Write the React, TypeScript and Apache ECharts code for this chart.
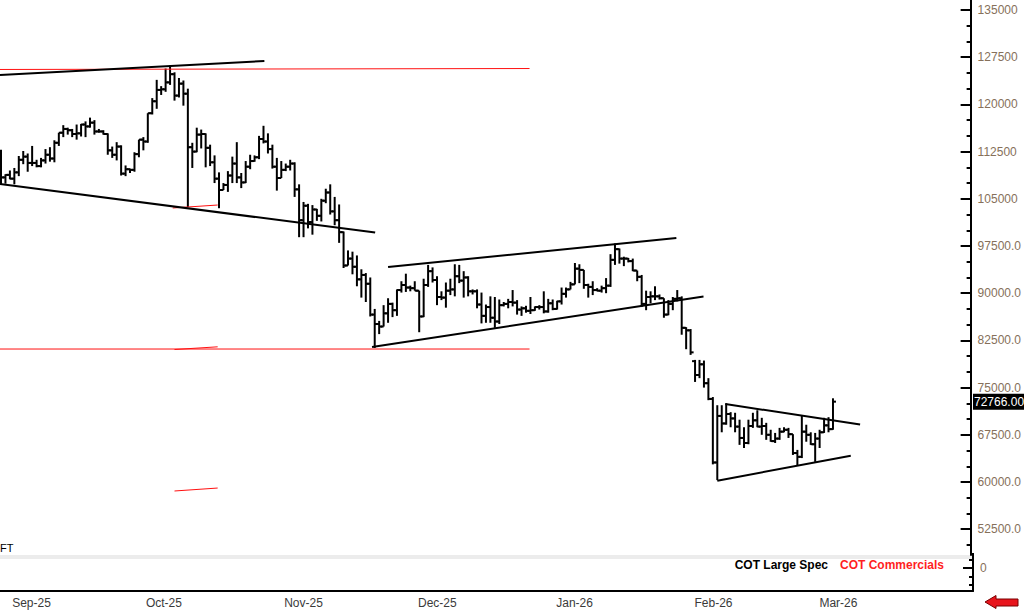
import React, { useEffect, useRef } from "react";
import * as echarts from "echarts";

// Daily OHLC bars [open, high, low, close], first bar = 2025-08-29
const barsAug = [
  [111200, 112800, 107300, 108400], [108400, 108900, 107400, 108800], [108800, 109500, 108100, 108200],
];
const barsSep = [
  [108200, 109900, 107300, 109200], [109200, 111800, 108600, 111200], [111200, 112600, 110500, 111700],
  [111700, 112200, 109300, 110700], [110700, 113400, 110200, 110700], [110700, 111200, 110000, 110200],
  [110200, 111500, 110000, 111100], [111100, 112900, 110600, 112000], [112000, 113200, 110900, 111400],
  [111400, 114300, 110800, 113900], [113900, 115500, 113400, 115500], [115500, 116700, 114800, 116100],
  [116100, 116300, 115200, 115900], [115900, 116100, 114800, 115300], [115300, 116800, 114400, 115400],
  [115400, 116900, 114900, 116800], [116800, 117300, 114800, 116500], [116500, 117900, 116300, 117100],
  [117100, 117500, 115200, 115700], [115700, 116100, 115500, 115700], [115700, 115900, 115200, 115300],
  [115300, 115400, 112000, 112700], [112700, 113300, 111500, 112000], [112000, 114000, 111100, 113300],
  [113300, 113500, 108700, 109000], [109000, 110300, 108600, 109700], [109700, 109800, 109100, 109600],
  [109600, 112400, 109300, 112100], [112100, 114400, 111600, 114400], [114400, 114800, 112700, 114100],
];
const barsOct = [
  [114100, 118600, 113900, 118600], [118600, 121000, 118400, 120500], [120500, 123900, 119300, 122300],
  [122300, 122900, 121500, 122400], [122400, 125700, 122000, 123500], [123500, 126200, 123100, 124800],
  [124800, 125100, 120600, 121400], [121400, 124200, 121100, 123300], [123300, 123800, 119800, 121700],
  [121700, 122500, 103700, 113200], [113200, 113900, 109900, 112500], [112500, 116300, 112400, 115200],
  [115200, 116000, 113000, 115300], [115300, 115400, 110000, 113100], [113100, 113600, 110200, 110800],
  [110800, 111900, 107500, 108200], [108200, 109200, 103500, 106400], [106400, 107500, 106400, 107200],
  [107200, 109400, 106100, 108700], [108700, 111700, 107500, 110600], [110600, 114000, 107500, 108400],
  [108400, 109100, 106700, 107600], [107600, 111000, 107500, 110100], [110100, 112000, 109700, 111000],
  [111000, 111900, 110900, 111600], [111600, 115000, 111300, 114500], [114500, 116600, 113800, 114100],
  [114100, 115400, 112200, 112900], [112900, 113600, 109800, 110100], [110100, 111500, 106300, 108300],
  [108300, 111000, 108300, 109600],
];
const barsNov = [
  [109600, 110600, 109400, 110100], [110100, 111200, 109500, 110600], [110600, 110800, 105300, 106500],
  [106500, 107300, 98900, 101600], [101600, 104500, 98900, 103900], [103900, 104200, 100300, 101300],
  [101300, 104000, 99300, 103300], [103300, 103400, 101500, 102300], [102300, 105000, 101400, 104700],
  [104700, 106600, 104300, 106000], [106000, 107300, 102500, 103000], [103000, 105300, 100800, 101600],
  [101600, 104100, 98000, 99700], [99700, 99800, 94000, 94400], [94400, 96800, 94400, 95500],
  [95500, 96600, 93000, 94200], [94200, 96000, 91100, 92200], [92200, 93800, 89300, 92900],
  [92900, 93200, 88600, 91500], [91500, 92500, 86300, 86600], [86600, 87500, 81300, 85100],
  [85100, 85600, 83500, 84700], [84700, 88100, 84700, 86800], [86800, 89200, 85300, 88300],
  [88300, 88500, 86200, 87300], [87300, 90600, 86400, 90500], [90500, 91900, 90100, 91300],
  [91300, 93100, 90200, 90900], [90900, 91200, 90300, 90800], [90800, 91900, 90400, 90400],
];
const barsDec = [
  [90400, 90400, 83800, 86300], [86300, 92300, 86200, 91300], [91300, 94500, 91000, 93500],
  [93500, 94100, 91700, 92100], [92100, 92700, 88100, 89400], [89400, 90300, 88900, 89300],
  [89300, 91700, 87700, 90400], [90400, 92300, 89700, 90600], [90600, 94600, 89500, 92700],
  [92700, 94500, 91600, 92000], [92000, 93500, 89300, 92500], [92500, 92700, 89500, 90300],
  [90300, 90600, 89800, 90300], [90300, 90600, 87600, 88200], [88200, 90100, 85200, 86400],
  [86400, 88200, 85300, 87800], [87800, 89500, 85300, 86100], [86100, 89400, 84500, 85500],
  [85500, 89000, 85100, 88100], [88100, 88600, 87900, 88300], [88300, 89100, 87600, 88600],
  [88600, 90500, 87900, 88500], [88500, 88900, 86600, 87400], [87400, 87900, 86400, 87600],
  [87600, 88000, 86900, 87200], [87200, 89400, 86700, 87300], [87300, 87900, 87200, 87800],
  [87800, 88100, 87400, 87800], [87800, 90300, 86800, 87100], [87100, 89100, 86900, 88400],
  [88400, 89000, 87300, 87500],
];
const barsJan = [
  [87500, 88800, 87400, 88700], [88700, 90900, 88200, 89900], [89900, 90900, 89300, 90600],
  [90600, 91800, 90600, 91400], [91400, 94800, 91400, 93900], [93900, 94600, 91600, 93700],
  [93700, 93700, 90700, 91300], [91300, 91500, 89300, 91000], [91000, 91900, 89700, 90500],
  [90500, 90800, 90300, 90400], [90400, 91200, 90100, 90800], [90800, 92400, 90000, 91200],
  [91200, 96200, 91000, 95300], [95300, 97900, 94500, 97000], [97000, 97100, 94700, 95500],
  [95500, 95800, 94300, 95500], [95500, 95600, 94900, 95100], [95100, 95500, 93500, 93600],
  [93600, 93600, 91900, 92600], [92600, 92900, 87800, 88300], [88300, 90400, 87300, 89400],
  [89400, 90300, 88400, 89500], [89500, 91100, 88900, 89500], [89500, 89800, 89000, 89200],
  [89200, 89200, 86100, 86600], [86600, 88900, 86500, 88300], [88300, 89400, 87300, 89100],
  [89100, 90500, 88700, 89200], [89200, 89500, 83400, 84500], [84500, 84600, 81100, 84100],
  [84100, 84300, 80200, 80600],
];
const barsFeb = [
  [79200, 79400, 75900, 77000], [77000, 79400, 76500, 78700], [78700, 79300, 75000, 75700],
  [75700, 76500, 73000, 73200], [73200, 73500, 62800, 63100], [63100, 72200, 60300, 70500],
  [70500, 72200, 67900, 69300], [69300, 72500, 69100, 70800], [70800, 71100, 68700, 70100],
  [70100, 71000, 67900, 68800], [68800, 69900, 65900, 67000], [67000, 68700, 65400, 66200],
  [66200, 69900, 66000, 68900], [68900, 71000, 68600, 69800], [69800, 71400, 68700, 68800],
  [68800, 70200, 67500, 68900], [68900, 69400, 66700, 67500], [67500, 68300, 66400, 66500],
  [66500, 67800, 66200, 66900], [66900, 68600, 66700, 68000], [68000, 68700, 67900, 68300],
  [68300, 68600, 67000, 67600], [67600, 67600, 64300, 64600], [64600, 65100, 62700, 64000],
  [64000, 70600, 63800, 68000], [68000, 69100, 66400, 67500], [67500, 67900, 65900, 66000],
  [66000, 67800, 63200, 66900],
];
const barsMar = [
  [66900, 68300, 65400, 67900], [67900, 70200, 67800, 69000], [69000, 70300, 67900, 68400],
  [68400, 73300, 68300, 72766],
];
const bars = [...barsAug, ...barsSep, ...barsOct, ...barsNov, ...barsDec, ...barsJan, ...barsFeb, ...barsMar];

// Month start positions (bar index) and labels
const monthStarts = [3, 33, 64, 94, 125, 156, 184];
const monthLabels = ["Sep-25", "Oct-25", "Nov-25", "Dec-25", "Jan-26", "Feb-26", "Mar-26"];

// Price axis ticks
const priceTicks = [52500, 60000, 67500, 75000, 82500, 90000, 97500, 105000, 112500, 120000, 127500, 135000];
const priceMinorTicks = [50000, 55000, 57500, 62500, 65000, 70000, 72500, 77500, 80000, 85000, 87500, 92500, 95000,
  100000, 102500, 107500, 110000, 115000, 117500, 122500, 125000, 130000, 132500];
const cotTicks = [0];
const cotMinorTicks = [8, -9, -17];

// Drawn trendlines: [[barIndex, price], [barIndex, price]]
const blackTrendlines = [
  [[-0.224, 124670], [59.2, 126900]],
  [[-0.224, 107350], [84.1, 99640]],
  [[83.4, 81450], [157.9, 89480]],
  [[87.0, 94160], [151.8, 98770]],
  [[162.8, 72390], [193.1, 69140]],
  [[161.0, 60210], [191.0, 64180]],
];
const redTrendlines = [
  [[-0.224, 125550], [118.8, 125700]],
  [[-0.224, 81130], [118.8, 81130]],
  [[38.6, 103540], [48.7, 104010]],
  [[39.0, 81050], [48.7, 81480]],
  [[39.0, 58570], [48.7, 59040]],
];

const FONT = '"Liberation Sans", Arial, sans-serif';
const X_MIN = -0.224;
const X_MAX = 217.94;
const LABEL_COLOR = "#86705a";

export default function App() {
  const ref = useRef<HTMLDivElement>(null);
  useEffect(() => {
    if (!ref.current) return;
    const chart = echarts.init(ref.current, undefined, { renderer: "svg" });
    const lineSeries = (pts: number[][], color: string, width: number) => ({
      type: "line",
      xAxisIndex: 0,
      yAxisIndex: 0,
      data: pts,
      symbol: "none",
      showSymbol: false,
      silent: true,
      z: 5,
      lineStyle: { color, width },
    });
    const yBase = (gridIndex: number, min: number, max: number) => ({
      type: "value", gridIndex, position: "right", min, max,
      splitLine: { show: false },
    });
    chart.setOption({
      animation: false,
      backgroundColor: "#fff",
      grid: [
        { left: 0, top: 0, width: 973, height: 555 },
        { left: 0, top: 559, width: 973, height: 32 },
      ],
      xAxis: [
        { type: "value", gridIndex: 0, min: X_MIN, max: X_MAX, show: false },
        {
          type: "value", gridIndex: 1, min: X_MIN, max: X_MAX,
          splitLine: { show: false },
          axisLine: { show: true, onZero: false, lineStyle: { color: "#000", width: 2 } },
          axisTick: { show: false },
          axisLabel: {
            customValues: monthStarts.map((m) => m - 0.5),
            formatter: (v: number) => {
              const k = monthStarts.findIndex((m) => Math.abs(m - 0.5 - v) < 0.01);
              return k >= 0 ? monthLabels[k] : "";
            },
            align: "left",
            margin: 6,
            color: "#3a3a3a",
            fontSize: 12,
            fontFamily: FONT,
          },
        },
      ],
      yAxis: [
        {
          ...yBase(0, 48400, 136589),
          axisLine: { show: true, onZero: false, lineStyle: { color: "#000", width: 2 } },
          axisTick: { show: true, inside: true, length: 10, customValues: priceTicks, lineStyle: { color: "#000", width: 2 } },
          axisLabel: {
            customValues: priceTicks,
            formatter: (v: number) => (v >= 100000 ? String(v) : v.toFixed(1)),
            margin: 7,
            color: LABEL_COLOR,
            fontSize: 12,
            fontFamily: FONT,
          },
        },
        {
          ...yBase(0, 48400, 136589),
          axisLine: { show: false, onZero: false },
          axisTick: { show: true, inside: true, length: 4, customValues: priceMinorTicks, lineStyle: { color: "#000", width: 2 } },
          axisLabel: { show: false },
        },
        {
          ...yBase(1, -23, 9),
          axisLine: { show: true, onZero: false, lineStyle: { color: "#000", width: 2 } },
          axisTick: { show: true, inside: true, length: 10, customValues: cotTicks, lineStyle: { color: "#000", width: 2 } },
          axisLabel: {
            customValues: cotTicks,
            formatter: (v: number) => String(v),
            margin: 7,
            color: LABEL_COLOR,
            fontSize: 12,
            fontFamily: FONT,
          },
        },
        {
          ...yBase(1, -23, 9),
          axisLine: { show: false, onZero: false },
          axisTick: { show: true, inside: true, length: 4, customValues: cotMinorTicks, lineStyle: { color: "#000", width: 2 } },
          axisLabel: { show: false },
        },
      ],
      series: [
        {
          type: "custom",
          xAxisIndex: 0,
          yAxisIndex: 0,
          clip: true,
          z: 3,
          data: bars.map((b, i) => [i, b[0], b[1], b[2], b[3]]),
          encode: { x: 0, y: [1, 2, 3, 4] },
          renderItem: (params: any, api: any) => {
            const i = api.value(0);
            const o = api.coord([i, api.value(1)]);
            const h = api.coord([i, api.value(2)]);
            const l = api.coord([i, api.value(3)]);
            const c = api.coord([i, api.value(4)]);
            const style = { stroke: "#000", lineWidth: 2 };
            return {
              type: "group",
              children: [
                { type: "line", shape: { x1: h[0], y1: h[1], x2: l[0], y2: l[1] }, style },
                { type: "line", shape: { x1: o[0] - 3, y1: o[1], x2: o[0], y2: o[1] }, style },
                { type: "line", shape: { x1: c[0], y1: c[1], x2: c[0] + 3, y2: c[1] }, style },
              ],
            };
          },
        },
        ...redTrendlines.map((t) => lineSeries(t, "#ff1010", 1)),
        ...blackTrendlines.map((t) => lineSeries(t, "#000", 2)),
      ],
    });

    const lastClose = bars[bars.length - 1][3];
    const py = chart.convertToPixel({ yAxisIndex: 0 }, lastClose) as number;
    chart.setOption({
      graphic: [
        { type: "rect", shape: { x: 0, y: 555, width: 972, height: 4 }, style: { fill: "#ececec" }, silent: true },
        { type: "rect", shape: { x: 972, y: 553, width: 2, height: 8 }, style: { fill: "#000" }, silent: true },
        {
          type: "text", x: 0, y: 548,
          style: { text: "FT", fill: "#000", font: `11px ${FONT}`, align: "left", verticalAlign: "middle", textAlign: "left", textVerticalAlign: "middle" },
        },
        {
          type: "text", x: 828, y: 565,
          style: { text: "COT Large Spec", fill: "#000", font: `bold 12px ${FONT}`, align: "right", verticalAlign: "middle", textAlign: "right", textVerticalAlign: "middle" },
        },
        {
          type: "text", x: 840, y: 565,
          style: { text: "COT Commercials", fill: "#ff1f1f", font: `bold 12px ${FONT}`, align: "left", verticalAlign: "middle", textAlign: "left", textVerticalAlign: "middle" },
        },
        { type: "rect", shape: { x: 973, y: py - 8, width: 51, height: 16 }, style: { fill: "#000" }, z: 10 },
        {
          type: "text", x: 974, y: py, z: 11,
          style: { text: lastClose.toFixed(2), fill: "#fff", font: `12px ${FONT}`, align: "left", verticalAlign: "middle", textAlign: "left", textVerticalAlign: "middle" },
        },
        {
          type: "polygon",
          shape: { points: [[985, 602], [996, 595.5], [996, 599], [1018, 599], [1018, 606], [996, 606], [996, 608.5]] },
          style: { fill: "#e8141c", stroke: "#7a0000", lineWidth: 1 },
        },
      ],
    });

    return () => chart.dispose();
  }, []);
  return (
    <div
      ref={ref}
      style={{ position: "fixed", left: 0, top: 0, width: 1024, height: 612, background: "#fff" }}
    />
  );
}
